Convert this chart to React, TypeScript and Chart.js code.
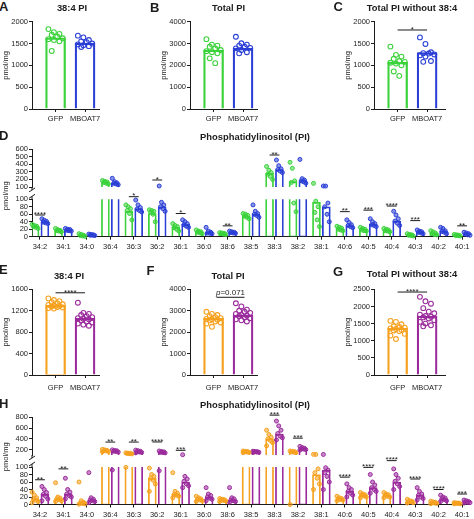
import React, { useEffect, useRef } from "react";
import { Chart, registerables } from "chart.js";

Chart.register(...registerables);

const FONT = "'Liberation Sans', Arial, Helvetica, sans-serif";
const INK = "#1c1c1c";
const GREEN = "#3bd23b";
const BLUE = "#2b3fd6";
const ORANGE = "#f6a11f";
const PURPLE = "#9b2b9c";

// ---------------- data ----------------
const groupLabels = ["GFP", "MBOAT7"];

// A – 38:4 PI (top row)
const aYTicks = [0, 500, 1000, 1500, 2000];
const aMeans = [1630, 1510];
const aGfp = [1830, 1760, 1720, 1700, 1660, 1620, 1600, 1580, 1550, 1330];
const aMboat7 = [1680, 1640, 1580, 1550, 1530, 1500, 1480, 1460, 1440, 1420];

// B – Total PI (top row)
const bYTicks = [0, 1000, 2000, 3000, 4000];
const bMeans = [2700, 2780];
const bGfp = [3200, 2950, 2900, 2850, 2780, 2700, 2650, 2600, 2550, 2320, 2100];
const bMboat7 = [3310, 3010, 2950, 2900, 2850, 2800, 2780, 2700, 2600, 2550];

// C – Total PI without 38:4 (top row)
const cYTicks = [0, 500, 1000, 1500, 2000];
const cMeans = [1070, 1290];
const cGfp = [1430, 1240, 1200, 1150, 1100, 1080, 1060, 1040, 1000, 860, 760];
const cMboat7 = [1640, 1490, 1300, 1280, 1270, 1250, 1230, 1200, 1100, 1080];
const cSig = [{ from: 0, to: 1, y: 1810, label: "*" }];

// E – 38:4 PI (bottom row)
const eYTicks = [0, 400, 800, 1200, 1600];
const eMeans = [1300, 1060];
const eGfp = [1430, 1400, 1380, 1360, 1340, 1320, 1310, 1300, 1290, 1280, 1270, 1260, 1250, 1240];
const eMboat7 = [1350, 1160, 1140, 1120, 1100, 1080, 1060, 1050, 1040, 1020, 1000, 980, 960, 940, 920];
const eSig = [{ from: 0, to: 1, y: 1535, label: "****" }];

// F – Total PI (bottom row)
const fYTicks = [0, 1000, 2000, 3000, 4000];
const fMeans = [2650, 2800];
const fGfp = [2950, 2850, 2800, 2750, 2700, 2650, 2620, 2600, 2580, 2550, 2500, 2450, 2400, 2250];
const fMboat7 = [3350, 3200, 3050, 3000, 2950, 2900, 2850, 2800, 2780, 2750, 2700, 2650, 2600, 2550, 2500];
const fSig = [{ from: 0.1, to: 1.05, y: 3627, label: "p=0.071" }];

// G – Total PI without 38:4 (bottom row)
const gYTicks = [0, 500, 1000, 1500, 2000, 2500];
const gMeans = [1370, 1720];
const gGfp = [1580, 1550, 1480, 1420, 1400, 1380, 1360, 1340, 1320, 1300, 1280, 1200, 1150, 1050];
const gMboat7 = [2280, 2150, 2080, 1950, 1850, 1800, 1760, 1720, 1700, 1680, 1650, 1600, 1550, 1500, 1450, 1420];
const gSig = [{ from: 0, to: 1, y: 2420, label: "****" }];

// D / H – species
const speciesCats = ["34:2", "34:1", "34:0", "36:4", "36:3", "36:2", "36:1", "36:0", "38:6", "38:5", "38:3", "38:2", "38:1", "40:6", "40:5", "40:4", "40:3", "40:2", "40:1"];

const dUpperTicks = [100, 200, 300, 400, 500, 600];
const dLowerTicks = [0, 20, 40, 60, 80, 100];
const dGfpMeans = [28, 17, 4, 160, 68, 62, 25, 13, 8, 55, 280, 170, 92, 22, 20, 17, 5, 10, 4];
const dMboat7Means = [40, 18, 5, 150, 75, 80, 33, 12, 12, 60, 330, 185, 80, 30, 33, 42, 12, 15, 7];
const dGfpPts = [
  [33, 30, 28, 27, 25, 22], [22, 19, 17, 16, 15, 13], [8, 6, 4, 3, 2, 1],
  [185, 175, 165, 158, 150, 140], [85, 80, 75, 70, 62, 45], [72, 70, 68, 65, 60, 40],
  [35, 30, 27, 24, 20, 15], [18, 15, 13, 12, 10, 8], [11, 10, 9, 8, 7, 6],
  [62, 60, 57, 55, 52, 48], [370, 320, 290, 270, 240, 200], [425, 346, 180, 160, 90, 67],
  [148, 95, 80, 65, 45, 27], [28, 25, 23, 20, 18, 16], [25, 22, 20, 18, 16, 15],
  [22, 20, 18, 16, 15, 13], [8, 6, 5, 4, 3, 2], [16, 13, 10, 8, 6, 5], [6, 5, 4, 3, 3, 2],
];
const dMboat7Pts = [
  [48, 44, 41, 39, 37, 35], [22, 20, 19, 17, 16, 15], [7, 6, 5, 4, 4, 3],
  [214, 170, 155, 148, 140, 130], [98, 85, 78, 74, 70, 66], [113, 92, 85, 80, 75, 68],
  [45, 40, 35, 32, 28, 25], [25, 15, 12, 10, 9, 8], [15, 13, 12, 11, 10, 9],
  [85, 68, 62, 60, 57, 52], [455, 380, 340, 330, 310, 290], [463, 210, 190, 180, 170, 150],
  [113, 112, 90, 80, 60, 40], [45, 38, 32, 30, 27, 24], [48, 40, 35, 32, 30, 27],
  [68, 58, 48, 42, 36, 30], [18, 15, 13, 12, 10, 8], [25, 22, 16, 14, 12, 8], [12, 10, 8, 7, 5, 4],
];
const dSigUpper = [{ cat: 5, y: 192, label: "*" }, { cat: 10, y: 521, label: "**" }];
const dSigLower = [
  { cat: 0, y: 58, label: "****" }, { cat: 4, y: 107, label: "*" }, { cat: 6, y: 62, label: "*" },
  { cat: 8, y: 29, label: "**" }, { cat: 13, y: 67, label: "**" }, { cat: 14, y: 71, label: "***" },
  { cat: 15, y: 82, label: "****" }, { cat: 16, y: 43, label: "***" }, { cat: 18, y: 29, label: "**" },
];

const hUpperTicks = [200, 400, 600, 800];
const hLowerTicks = [0, 20, 40, 60, 80, 100];
const hGfpMeans = [15, 15, 5, 180, 130, 70, 28, 15, 12, 158, 400, 158, 80, 15, 25, 25, 8, 5, 3];
const hMboat7Means = [27, 28, 12, 170, 160, 150, 60, 20, 12, 158, 490, 218, 92, 35, 45, 60, 25, 15, 7];
const hGfpPts = [
  [33, 25, 18, 15, 12, 8, 5], [58, 20, 17, 15, 13, 10, 8], [60, 10, 6, 4, 3, 2, 1],
  [205, 195, 185, 180, 175, 165, 160], [140, 135, 130, 128, 125, 120, 99], [97, 80, 75, 70, 65, 55, 35],
  [85, 35, 30, 27, 25, 22, 18], [22, 18, 15, 14, 12, 10, 8], [16, 14, 13, 12, 11, 10, 8],
  [175, 168, 162, 158, 155, 150, 145], [560, 480, 430, 400, 370, 330, 270], [175, 168, 162, 158, 152, 145, 0],
  [112, 110, 95, 85, 70, 55, 40], [22, 18, 16, 15, 13, 12, 10], [32, 28, 26, 25, 23, 20, 18],
  [32, 28, 26, 25, 22, 20, 18], [14, 10, 9, 8, 7, 5, 4], [9, 7, 6, 5, 4, 3, 2], [5, 4, 4, 3, 3, 2, 2],
];
const hMboat7Pts = [
  [48, 40, 32, 27, 22, 15, 10], [70, 40, 33, 28, 24, 20, 15], [85, 18, 14, 12, 10, 8, 5],
  [195, 185, 178, 170, 165, 155, 92], [190, 180, 170, 162, 155, 148, 140], [175, 165, 158, 150, 145, 140, 90],
  [105, 75, 68, 62, 55, 50, 45], [45, 28, 24, 20, 17, 14, 10], [45, 18, 15, 12, 10, 8, 6],
  [170, 165, 160, 158, 155, 150, 148], [730, 640, 560, 500, 450, 420, 380], [260, 240, 225, 218, 210, 200, 190],
  [110, 98, 92, 85, 75, 60, 40], [55, 45, 40, 35, 30, 25, 20], [80, 60, 52, 45, 40, 35, 30],
  [95, 80, 70, 62, 55, 48, 40], [45, 35, 28, 25, 20, 16, 12], [25, 20, 17, 15, 13, 10, 8], [12, 10, 8, 7, 6, 5, 4],
];
const hSigUpper = [
  { cat: 3, y: 340, label: "**" }, { cat: 4, y: 340, label: "**" }, { cat: 5, y: 342, label: "****" },
  { cat: 6, y: 187, label: "***" }, { cat: 10, y: 840, label: "***" }, { cat: 11, y: 413, label: "***" },
];
const hSigLower = [
  { cat: 0, y: 66, label: "**" }, { cat: 1, y: 95, label: "**" }, { cat: 13, y: 73, label: "****" },
  { cat: 14, y: 99, label: "****" }, { cat: 15, y: 117, label: "****" }, { cat: 16, y: 68, label: "****" },
  { cat: 17, y: 40, label: "****" }, { cat: 18, y: 28, label: "***" },
];

// ---------------- helpers ----------------
type Box = { x: number; y: number; w: number; h: number };
type Area = { l: number; t: number; r: number; b: number };
type Sig = { from: number; to: number; y: number; label: string };

function swarm(j: number, step: number) {
  const col = (j % 3) - 1;
  const wob = Math.floor(j / 3) % 2 === 0 ? -0.3 : 0.3;
  return (col + wob) * step;
}

function alpha(hex: string, a: number) {
  const n = parseInt(hex.slice(1), 16);
  return `rgba(${(n >> 16) & 255},${(n >> 8) & 255},${n & 255},${a})`;
}

function sigPlugin(items: Sig[]) {
  return {
    id: "sig",
    afterDatasetsDraw(chart: any) {
      const { ctx, scales } = chart;
      const x = scales.x;
      const y = scales.y;
      ctx.save();
      ctx.strokeStyle = INK;
      ctx.fillStyle = INK;
      ctx.lineWidth = 1;
      for (const it of items) {
        const x1 = x.getPixelForValue(it.from);
        const x2 = x.getPixelForValue(it.to);
        const yy = y.getPixelForValue(it.y);
        ctx.beginPath();
        ctx.moveTo(x1, yy);
        ctx.lineTo(x2, yy);
        ctx.stroke();
        const cx = (x1 + x2) / 2;
        ctx.textBaseline = "alphabetic";
        if (it.label.startsWith("p=")) {
          const rest = it.label.slice(1);
          ctx.font = `italic 8px ${FONT}`;
          const wp = ctx.measureText("p").width;
          ctx.font = `8px ${FONT}`;
          const wr = ctx.measureText(rest).width;
          const sx = cx - (wp + wr) / 2;
          ctx.textAlign = "left";
          ctx.font = `italic 8px ${FONT}`;
          ctx.fillText("p", sx, yy - 2);
          ctx.font = `8px ${FONT}`;
          ctx.fillText(rest, sx + wp, yy - 2);
        } else {
          ctx.font = `8px ${FONT}`;
          ctx.textAlign = "center";
          ctx.fillText(it.label, cx, yy + 1.8);
        }
      }
      ctx.restore();
    },
  };
}

function breakPlugin(where: "top" | "bottom") {
  return {
    id: "brk",
    afterDraw(chart: any) {
      const { ctx, chartArea: a } = chart;
      ctx.save();
      ctx.strokeStyle = INK;
      ctx.lineWidth = 1;
      ctx.beginPath();
      if (where === "bottom") {
        ctx.moveTo(a.left, a.bottom);
        ctx.lineTo(a.left, a.bottom + 3);
        ctx.moveTo(a.left - 3, a.bottom + 5);
        ctx.lineTo(a.left + 3, a.bottom + 1);
      } else {
        ctx.moveTo(a.left, a.top);
        ctx.lineTo(a.left, a.top - 3);
        ctx.moveTo(a.left - 3, a.top - 1);
        ctx.lineTo(a.left + 3, a.top - 5);
      }
      ctx.stroke();
      ctx.restore();
    },
  };
}

const tickFont = { family: FONT, size: 7.5 };

function yAxis(box: Box, area: Area, ticks: number[], min: number, max: number, title: boolean) {
  return {
    type: "linear",
    min,
    max,
    afterBuildTicks: (s: any) => {
      s.ticks = ticks.map((v) => ({ value: v }));
    },
    ticks: { callback: (v: any) => String(v), font: tickFont, color: INK, padding: 1, autoSkip: false },
    grid: { display: true, drawOnChartArea: false, drawTicks: true, tickLength: 3, color: INK, lineWidth: 1 },
    border: { display: true, color: INK, width: 1 },
    title: {
      display: title,
      text: "pmol/mg",
      font: { family: FONT, size: 7.5 },
      color: INK,
      padding: { top: 1, bottom: 0 },
    },
    afterFit: (s: any) => {
      s.width = area.l - box.x;
      s.paddingTop = 0;
      s.paddingBottom = 0;
      s.paddingLeft = 0;
      s.paddingRight = 0;
    },
  };
}

function xAxis(box: Box, area: Area, min: number, max: number, labels: string[], show: boolean, pad: number) {
  return {
    type: "linear",
    display: show,
    min,
    max,
    offset: false,
    afterBuildTicks: (s: any) => {
      s.ticks = labels.map((_, i) => ({ value: i }));
    },
    ticks: {
      callback: (v: any) => labels[Math.round(v)] ?? "",
      font: tickFont,
      color: INK,
      padding: pad,
      autoSkip: false,
      maxRotation: 0,
      minRotation: 0,
    },
    grid: { display: true, offset: false, drawOnChartArea: false, drawTicks: true, tickLength: 3, color: INK, lineWidth: 1 },
    border: { display: true, color: INK, width: 1 },
    afterFit: (s: any) => {
      if (show) s.height = box.y + box.h - area.b;
      s.paddingLeft = 0;
      s.paddingRight = 0;
      s.paddingTop = 0;
      s.paddingBottom = 0;
    },
  };
}

function baseOptions(box: Box, area: Area, bottomPad: number) {
  return {
    responsive: false,
    animation: false,
    devicePixelRatio: 1,
    events: [],
    layout: {
      padding: { left: 0, top: area.t - box.y, right: box.x + box.w - area.r, bottom: bottomPad },
    },
    plugins: { legend: { display: false }, tooltip: { enabled: false }, title: { display: false } },
  };
}

type SmallSpec = {
  box: Box;
  area: Area;
  yTicks: number[];
  means: number[];
  pts: number[][];
  colors: string[];
  sig: Sig[];
  labelPad: number;
};

function makeSmall(p: SmallSpec) {
  const PXU = 29.5;
  const xMin = -0.8;
  const xMax = xMin + (p.area.r - p.area.l) / PXU;
  const datasets: any[] = [];
  p.means.forEach((m, g) => {
    datasets.push({
      type: "bar",
      data: [{ x: g, y: m }],
      backgroundColor: "rgba(0,0,0,0)",
      borderColor: p.colors[g],
      borderWidth: 1.6,
      barThickness: 20,
      grouped: false,
      order: 3,
    });
  });
  p.pts.forEach((arr, g) => {
    datasets.push({
      type: "scatter",
      data: arr.map((v, j) => ({ x: g + swarm(j, 5.5) / PXU, y: v })),
      pointRadius: 2.4,
      pointBorderWidth: 1.1,
      pointBackgroundColor: "rgba(255,255,255,0)",
      pointBorderColor: p.colors[g],
      borderColor: p.colors[g],
      backgroundColor: "rgba(255,255,255,0)",
      order: 1,
      clip: false,
    });
  });
  return {
    type: "bar",
    data: { datasets },
    options: {
      ...baseOptions(p.box, p.area, 0),
      scales: {
        x: xAxis(p.box, p.area, xMin, xMax, groupLabels, true, p.labelPad),
        y: yAxis(p.box, p.area, p.yTicks, 0, p.yTicks[p.yTicks.length - 1], true),
      },
    },
    plugins: [sigPlugin(p.sig)],
  };
}

type SegSpec = {
  box: Box;
  area: Area;
  yMin: number;
  yMax: number;
  yTicks: number[];
  upper: boolean;
  means: number[][];
  pts: number[][][];
  colors: string[];
  sig: { cat: number; y: number; label: string }[];
  labelPad: number;
};

function makeSegment(s: SegSpec) {
  const PXU = 23.72;
  const xMin = -0.34;
  const xMax = xMin + (s.area.r - s.area.l) / PXU;
  const OFF = 0.21;
  const keep = (v: number) => (s.upper ? v > s.yMin : v <= s.yMax);
  const datasets: any[] = [];
  s.means.forEach((arr, g) => {
    const dx = g === 0 ? -OFF : OFF;
    datasets.push({
      type: "bar",
      data: arr.map((m, i) => ({ x: i + dx, y: m })),
      backgroundColor: "rgba(0,0,0,0)",
      borderColor: s.colors[g],
      borderWidth: 1.1,
      barThickness: 8,
      grouped: false,
      order: 3,
    });
  });
  s.pts.forEach((cats, g) => {
    const dx = g === 0 ? -OFF : OFF;
    const data: any[] = [];
    cats.forEach((arr, i) => {
      arr.forEach((v, j) => {
        if (keep(v)) data.push({ x: i + dx + swarm(j, 2.3) / PXU, y: v });
      });
    });
    datasets.push({
      type: "scatter",
      data,
      pointRadius: 2,
      pointBorderWidth: 1,
      pointBackgroundColor: alpha(s.colors[g], 0.55),
      pointBorderColor: s.colors[g],
      borderColor: s.colors[g],
      backgroundColor: alpha(s.colors[g], 0.55),
      order: 1,
      clip: false,
    });
  });
  const sig: Sig[] = s.sig.map((q) => ({ from: q.cat - OFF, to: q.cat + OFF, y: q.y, label: q.label }));
  return {
    type: "bar",
    data: { datasets },
    options: {
      ...baseOptions(s.box, s.area, s.upper ? s.box.y + s.box.h - s.area.b : 0),
      scales: {
        x: xAxis(s.box, s.area, xMin, xMax, speciesCats, !s.upper, s.labelPad),
        y: yAxis(s.box, s.area, s.yTicks, s.yMin, s.yMax, false),
      },
    },
    plugins: [sigPlugin(sig), breakPlugin(s.upper ? "bottom" : "top")],
  };
}

function ChartBox({ box, make }: { box: Box; make: () => any }) {
  const ref = useRef<HTMLCanvasElement>(null);
  useEffect(() => {
    const chart = new Chart(ref.current as HTMLCanvasElement, make());
    return () => chart.destroy();
  }, []);
  return (
    <canvas
      ref={ref}
      width={box.w}
      height={box.h}
      style={{ position: "absolute", left: box.x, top: box.y, width: box.w, height: box.h }}
    />
  );
}

function Letter({ x, capTop, t }: { x: number; capTop: number; t: string }) {
  const size = 13;
  return (
    <div
      style={{
        position: "absolute",
        left: x,
        top: capTop - 0.13 * size,
        fontSize: size,
        lineHeight: `${size}px`,
        fontWeight: 700,
        fontFamily: FONT,
        color: INK,
        whiteSpace: "nowrap",
      }}
    >
      {t}
    </div>
  );
}

function Title({ cx, cy, t }: { cx: number; cy: number; t: string }) {
  const size = 9.4;
  return (
    <div
      style={{
        position: "absolute",
        left: cx - 120,
        width: 240,
        textAlign: "center",
        top: cy - 0.49 * size,
        fontSize: size,
        lineHeight: `${size}px`,
        fontWeight: 700,
        fontFamily: FONT,
        color: INK,
        whiteSpace: "nowrap",
      }}
    >
      {t}
    </div>
  );
}

function VLabel({ cx, cy, t }: { cx: number; cy: number; t: string }) {
  const size = 7.5;
  return (
    <div
      style={{
        position: "absolute",
        left: cx - 30,
        top: cy - size / 2,
        width: 60,
        textAlign: "center",
        fontSize: size,
        lineHeight: `${size}px`,
        fontFamily: FONT,
        color: INK,
        transform: "rotate(-90deg)",
        whiteSpace: "nowrap",
      }}
    >
      {t}
    </div>
  );
}

export default function App() {
  const top = { y: 14, h: 112 };
  const bot = { y: 282, h: 112 };
  return (
    <div
      style={{
        position: "fixed",
        left: 0,
        top: 0,
        width: 474,
        height: 519,
        background: "#fff",
        overflow: "hidden",
      }}
    >
      <ChartBox
        box={{ x: 0, y: top.y, w: 105, h: top.h }}
        make={() =>
          makeSmall({
            box: { x: 0, y: top.y, w: 105, h: top.h },
            area: { l: 32, t: 21.7, r: 100, b: 109 },
            yTicks: aYTicks,
            means: aMeans,
            pts: [aGfp, aMboat7],
            colors: [GREEN, BLUE],
            sig: [],
            labelPad: 2,
          })
        }
      />
      <ChartBox
        box={{ x: 158, y: top.y, w: 105, h: top.h }}
        make={() =>
          makeSmall({
            box: { x: 158, y: top.y, w: 105, h: top.h },
            area: { l: 190, t: 21.7, r: 258, b: 109 },
            yTicks: bYTicks,
            means: bMeans,
            pts: [bGfp, bMboat7],
            colors: [GREEN, BLUE],
            sig: [],
            labelPad: 2,
          })
        }
      />
      <ChartBox
        box={{ x: 342, y: top.y, w: 110, h: top.h }}
        make={() =>
          makeSmall({
            box: { x: 342, y: top.y, w: 110, h: top.h },
            area: { l: 374, t: 21.7, r: 445, b: 109 },
            yTicks: cYTicks,
            means: cMeans,
            pts: [cGfp, cMboat7],
            colors: [GREEN, BLUE],
            sig: cSig,
            labelPad: 2,
          })
        }
      />

      <ChartBox
        box={{ x: 0, y: 126, w: 474, h: 66 }}
        make={() =>
          makeSegment({
            box: { x: 0, y: 126, w: 474, h: 66 },
            area: { l: 32, t: 149, r: 474, b: 187 },
            yMin: 100,
            yMax: 600,
            yTicks: dUpperTicks,
            upper: true,
            means: [dGfpMeans, dMboat7Means],
            pts: [dGfpPts, dMboat7Pts],
            colors: [GREEN, BLUE],
            sig: dSigUpper,
            labelPad: 3,
          })
        }
      />
      <ChartBox
        box={{ x: 0, y: 186, w: 474, h: 70 }}
        make={() =>
          makeSegment({
            box: { x: 0, y: 186, w: 474, h: 70 },
            area: { l: 32, t: 199.3, r: 474, b: 236.7 },
            yMin: 0,
            yMax: 100,
            yTicks: dLowerTicks,
            upper: false,
            means: [dGfpMeans, dMboat7Means],
            pts: [dGfpPts, dMboat7Pts],
            colors: [GREEN, BLUE],
            sig: dSigLower,
            labelPad: 3,
          })
        }
      />

      <ChartBox
        box={{ x: 0, y: bot.y, w: 105, h: bot.h }}
        make={() =>
          makeSmall({
            box: { x: 0, y: bot.y, w: 105, h: bot.h },
            area: { l: 32, t: 289.3, r: 100, b: 375 },
            yTicks: eYTicks,
            means: eMeans,
            pts: [eGfp, eMboat7],
            colors: [ORANGE, PURPLE],
            sig: eSig,
            labelPad: 5,
          })
        }
      />
      <ChartBox
        box={{ x: 158, y: bot.y, w: 105, h: bot.h }}
        make={() =>
          makeSmall({
            box: { x: 158, y: bot.y, w: 105, h: bot.h },
            area: { l: 190, t: 289.3, r: 258, b: 375 },
            yTicks: fYTicks,
            means: fMeans,
            pts: [fGfp, fMboat7],
            colors: [ORANGE, PURPLE],
            sig: fSig,
            labelPad: 5,
          })
        }
      />
      <ChartBox
        box={{ x: 342, y: bot.y, w: 110, h: bot.h }}
        make={() =>
          makeSmall({
            box: { x: 342, y: bot.y, w: 110, h: bot.h },
            area: { l: 374, t: 289.3, r: 445, b: 375 },
            yTicks: gYTicks,
            means: gMeans,
            pts: [gGfp, gMboat7],
            colors: [ORANGE, PURPLE],
            sig: gSig,
            labelPad: 5,
          })
        }
      />

      <ChartBox
        box={{ x: 0, y: 396, w: 474, h: 64 }}
        make={() =>
          makeSegment({
            box: { x: 0, y: 396, w: 474, h: 64 },
            area: { l: 32, t: 417.3, r: 474, b: 455.5 },
            yMin: 100,
            yMax: 800,
            yTicks: hUpperTicks,
            upper: true,
            means: [hGfpMeans, hMboat7Means],
            pts: [hGfpPts, hMboat7Pts],
            colors: [ORANGE, PURPLE],
            sig: hSigUpper,
            labelPad: 3,
          })
        }
      />
      <ChartBox
        box={{ x: 0, y: 450, w: 474, h: 69 }}
        make={() =>
          makeSegment({
            box: { x: 0, y: 450, w: 474, h: 69 },
            area: { l: 32, t: 467, r: 474, b: 504.5 },
            yMin: 0,
            yMax: 100,
            yTicks: hLowerTicks,
            upper: false,
            means: [hGfpMeans, hMboat7Means],
            pts: [hGfpPts, hMboat7Pts],
            colors: [ORANGE, PURPLE],
            sig: hSigLower,
            labelPad: 3,
          })
        }
      />

      <Letter x={-1} capTop={2} t="A" />
      <Letter x={150} capTop={2.7} t="B" />
      <Letter x={333.5} capTop={2} t="C" />
      <Letter x={-1} capTop={130.5} t="D" />
      <Letter x={-1} capTop={265} t="E" />
      <Letter x={146.5} capTop={265.5} t="F" />
      <Letter x={333} capTop={266.5} t="G" />
      <Letter x={-1} capTop={399} t="H" />

      <Title cx={72} cy={8} t="38:4 PI" />
      <Title cx={228.5} cy={8} t="Total PI" />
      <Title cx={412} cy={7.5} t="Total PI without 38:4" />
      <Title cx={255} cy={136.5} t="Phosphatidylinositol (PI)" />
      <Title cx={69} cy={276} t="38:4 PI" />
      <Title cx={228} cy={276} t="Total PI" />
      <Title cx={412} cy={274} t="Total PI without 38:4" />
      <Title cx={255} cy={405} t="Phosphatidylinositol (PI)" />

      <VLabel cx={5.5} cy={196} t="pmol/mg" />
      <VLabel cx={5.5} cy={457} t="pmol/mg" />
    </div>
  );
}
